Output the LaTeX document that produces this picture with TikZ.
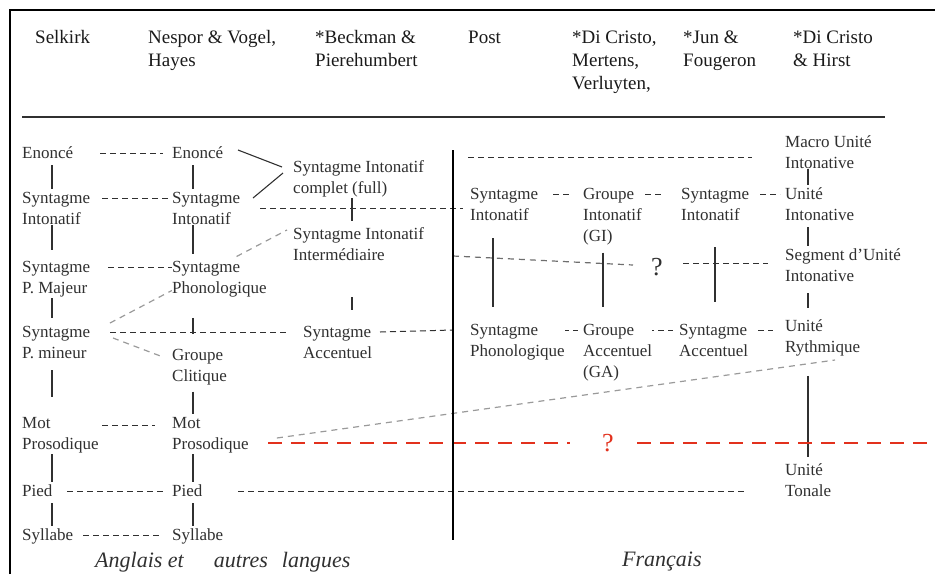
\documentclass[tikz,border=0pt]{standalone}
\usepackage{fontspec}
\setmainfont{Liberation Serif}
\usetikzlibrary{backgrounds, positioning}
\definecolor{ink}{HTML}{303030}
\definecolor{inkhead}{HTML}{1A1A1A}
\definecolor{greyline}{HTML}{9A9A9A}
\definecolor{redline}{HTML}{E2311D}
\newcommand{\bodysize}{\fontsize{17}{21}\selectfont}
\newcommand{\headsize}{\fontsize{19}{23}\selectfont}

\begin{document}
\begin{tikzpicture}[x=1pt, y=-1pt,
  term/.style={font=\bodysize, text=ink, align=left, inner sep=0pt,
               anchor=north west, fill=white},
  head/.style={font=\headsize, text=inkhead, align=left, inner sep=0pt,
               anchor=north west},
  lang/.style={font=\fontsize{22}{26}\selectfont\itshape, text=ink,
               inner sep=0pt, anchor=base west},
  qm/.style={font=\fontsize{26}{30}\selectfont, inner sep=0pt, anchor=west},
  tie/.style={draw=ink, line width=1.1pt},
  lk/.style={draw=ink, line width=1pt, dash pattern=on 6pt off 4pt},
  lkgrey/.style={draw=greyline, line width=1.2pt, dash pattern=on 6pt off 5pt},
  redlk/.style={draw=redline, line width=2.6pt, dash pattern=on 14pt off 9pt}
]
  \useasboundingbox (0,0) rectangle (935,574);

  % Frame and header rule
  \draw[line width=1.4pt] (10,574) -- (10,10) -- (935,10);
  \draw[line width=2.6pt, draw=ink] (22,117) -- (885,117);

  % Authors
  \node[head] (selkirk)  at (35,27)  {\strut Selkirk};
  \node[head] (nespor)   at (148,27) {\strut Nespor \& Vogel,\\Hayes};
  \node[head] (beckman)  at (315,27) {\strut *Beckman \&\\Pierehumbert};
  \node[head] (post)     at (468,27) {\strut Post};
  \node[head] (dicristo) at (572,27) {\strut *Di Cristo,\\Mertens,\\Verluyten,};
  \node[head] (jun)      at (683,27) {\strut *Jun \&\\Fougeron};
  \node[head] (hirst)    at (793,27) {\strut *Di Cristo\\\& Hirst};

  % Selkirk
  \node[term] (enonceS) at (22,144) {\strut Enoncé};
  \node[term] (sintS)   at (22,189) {\strut Syntagme\\Intonatif};
  \node[term] (spmajS)  at (22,258) {\strut Syntagme\\P. Majeur};
  \node[term] (spminS)  at (22,323) {\strut Syntagme\\P. mineur};
  \node[term] (motS)    at (22,414) {\strut Mot\\Prosodique};
  \node[term] (piedS)   at (22,482) {\strut Pied};
  \node[term] (sylS)    at (22,526) {\strut Syllabe};

  % Nespor & Vogel, Hayes
  \node[term] (enonceN) at (172,144) {\strut Enoncé};
  \node[term] (sintN)   at (172,189) {\strut Syntagme\\Intonatif};
  \node[term] (sphonN)  at (172,258) {\strut Syntagme\\Phonologique};
  \node[term] (gcliN)   at (172,346) {\strut Groupe\\Clitique};
  \node[term] (motN)    at (172,414) {\strut Mot\\Prosodique};
  \node[term] (piedN)   at (172,482) {\strut Pied};
  \node[term] (sylN)    at (172,526) {\strut Syllabe};

  % Beckman & Pierehumbert
  \node[term] (sifullB) at (293,158) {\strut Syntagme Intonatif\\complet (full)};
  \node[term] (siintB)  at (293,225) {\strut Syntagme Intonatif\\Intermédiaire};
  \node[term] (saccB)   at (303,323) {\strut Syntagme\\Accentuel};

  % French side
  \coordinate (bartop) at (453,150);
  \coordinate (barbot) at (453,540);
  \draw[line width=2.2pt] (bartop) -- (barbot);

  \node[term] (sintP)  at (470,185) {\strut Syntagme\\Intonatif};
  \node[term] (sphonP) at (470,321) {\strut Syntagme\\Phonologique};
  \node[term] (giD)    at (583,185) {\strut Groupe\\Intonatif\\(GI)};
  \node[term] (gaD)    at (583,321) {\strut Groupe\\Accentuel\\(GA)};
  \node[term] (sintJ)  at (681,185) {\strut Syntagme\\Intonatif};
  \node[term] (saccJ)  at (679,321) {\strut Syntagme\\Accentuel};
  \node[term] (muiH)   at (785,133) {\strut Macro Unité\\Intonative};
  \node[term] (uiH)    at (785,185) {\strut Unité\\Intonative};
  \node[term] (suiH)   at (785,246) {\strut Segment d’Unité\\Intonative};
  \node[term] (urH)    at (785,317) {\strut Unité\\Rythmique};
  \node[term] (utH)    at (785,461) {\strut Unité\\Tonale};

  \node[qm, text=ink] (qmark) at (651,267) {?};
  \node[qm, text=redline] (redq) at (602,443) {?};
  \coordinate (redend) at (935,443);

  % Languages
  \node[lang] (anglais)  at (95,567)  {Anglais et\hspace{30pt}autres\hspace{14pt}langues};
  \node[lang] (francais) at (622,566) {Français};

  \begin{scope}[on background layer]
    % vertical ties
    \draw[tie] ([xshift=30pt]enonceS.south west) -- ([xshift=30pt]sintS.north west);
    \draw[tie, shorten >=8pt] ([xshift=30pt]sintS.south west) -- ([xshift=30pt]spmajS.north west);
    \draw[tie, shorten >=5pt] ([xshift=30pt]spmajS.south west) -- ([xshift=30pt]spminS.north west);
    \draw[tie, shorten <=11pt, shorten >=17pt] ([xshift=30pt]spminS.south west) -- ([xshift=30pt]motS.north west);
    \draw[tie] ([xshift=30pt]motS.south west) -- ([xshift=30pt]piedS.north west);
    \draw[tie] ([xshift=30pt]piedS.south west) -- ([xshift=30pt]sylS.north west);

    \draw[tie] ([xshift=21pt]enonceN.south west) -- ([xshift=21pt]sintN.north west);
    \draw[tie, shorten >=4pt] ([xshift=21pt]sintN.south west) -- ([xshift=21pt]sphonN.north west);
    \draw[tie, shorten <=20pt, shorten >=12pt] ([xshift=21pt]sphonN.south west) -- ([xshift=21pt]gcliN.north west);
    \draw[tie, shorten <=6pt] ([xshift=21pt]gcliN.south west) -- ([xshift=21pt]motN.north west);
    \draw[tie] ([xshift=21pt]motN.south west) -- ([xshift=21pt]piedN.north west);
    \draw[tie] ([xshift=21pt]piedN.south west) -- ([xshift=21pt]sylN.north west);

    \draw[tie, shorten >=4pt] ([xshift=59pt]sifullB.south west) -- ([xshift=59pt]siintB.north west);
    \draw[tie, shorten <=36pt, shorten >=13pt] ([xshift=59pt]siintB.south west) -- ([xshift=49pt]saccB.north west);

    \draw[tie, shorten <=17pt, shorten >=14pt] ([xshift=23pt]sintP.south west) -- ([xshift=23pt]sphonP.north west);
    \draw[tie, shorten <=7pt, shorten >=14pt] ([xshift=20pt]giD.south west) -- ([xshift=20pt]gaD.north west);
    \draw[tie, shorten <=26pt, shorten >=19pt] ([xshift=34pt]sintJ.south west) -- ([xshift=36pt]saccJ.north west);

    \draw[tie] ([xshift=23pt]muiH.south west) -- ([xshift=23pt]uiH.north west);
    \draw[tie, shorten <=6pt] ([xshift=23pt]uiH.south west) -- ([xshift=23pt]suiH.north west);
    \draw[tie, shorten <=11pt, shorten >=9pt] ([xshift=23pt]suiH.south west) -- ([xshift=23pt]urH.north west);
    \draw[tie, shorten <=19pt, shorten >=4pt] ([xshift=23pt]urH.south west) -- ([xshift=23pt]utH.north west);

    % Enonce and SI into the full IP
    \draw[tie] ([xshift=66pt,yshift=-6pt]enonceN.north west) -- ([xshift=-11pt,yshift=-9pt]sifullB.north west);
    \draw[tie] ([xshift=81pt,yshift=-9pt]sintN.north west) -- ([xshift=-10pt,yshift=-15pt]sifullB.north west);

    % dashed equivalences
    \draw[lk] ([xshift=78pt,yshift=-9pt]enonceS.north west) -- ([xshift=-9pt,yshift=-9pt]enonceN.north west);
    \draw[lk] ([xshift=80pt,yshift=-9pt]sintS.north west) -- ([xshift=-4pt,yshift=-9pt]sintN.north west);
    \draw[lk] ([xshift=86pt,yshift=-9pt]spmajS.north west) -- ([xshift=0pt,yshift=-9pt]sphonN.north west);
    \draw[lk] ([xshift=88pt,yshift=-9pt]spminS.north west) -- ([xshift=-16pt,yshift=-9pt]saccB.north west);
    \draw[lk] ([xshift=77pt,yshift=-9pt]saccB.north west) -- ([xshift=-17pt,yshift=-9pt]sphonP.north west);
    \draw[lk] ([xshift=70pt,yshift=-11pt]motS.north west) -- ([xshift=-17pt,yshift=-11pt]motN.north west);
    \draw[lk] ([xshift=45pt,yshift=-9pt]piedS.north west) -- ([xshift=-9pt,yshift=-9pt]piedN.north west);
    \draw[lk] ([xshift=61pt,yshift=-9pt]sylS.north west) -- ([xshift=-10pt,yshift=-9pt]sylN.north west);
    \draw[lk] ([xshift=66pt,yshift=-9pt]piedN.north west) -- ([xshift=-38pt,yshift=-30pt]utH.north west);
    \draw[lk] ([xshift=88pt,yshift=-19pt]sintN.north west) -- ([xshift=-7pt,yshift=-23pt]sintP.north west);
    \draw[lk] ([xshift=-317pt,yshift=-24pt]muiH.north west) -- ([xshift=-33pt,yshift=-24pt]muiH.north west);

    \draw[lk] ([xshift=83pt,yshift=-9pt]sintP.north west) -- ([xshift=-13pt,yshift=-9pt]giD.north west);
    \draw[lk] ([xshift=62pt,yshift=-9pt]giD.north west) -- ([xshift=-18pt,yshift=-9pt]sintJ.north west);
    \draw[lk] ([xshift=79pt,yshift=-9pt]sintJ.north west) -- ([xshift=-5pt,yshift=-9pt]uiH.north west);
    \draw[lk] ([xshift=83pt,yshift=-9pt]sphonP.north west) -- ([xshift=-5pt,yshift=-9pt]gaD.north west);
    \draw[lk] ([xshift=65pt,yshift=-9pt]gaD.north west) -- ([xshift=-6pt,yshift=-9pt]saccJ.north west);
    \draw[lk] ([xshift=79pt,yshift=-9pt]saccJ.north west) -- ([xshift=-12pt,yshift=-13pt]urH.north west);

    % around the question mark
    \draw[lkgrey, draw=ink!70] ([xshift=-198pt,yshift=11pt]qmark.west) -- ([xshift=-18pt,yshift=2pt]qmark.west);
    \draw[lk] ([xshift=32pt,yshift=4pt]qmark.west) -- ([xshift=-17pt,yshift=-17pt]suiH.north west);

    % grey links
    \draw[lkgrey] ([xshift=88pt]spminS.north west) -- ([xshift=-6pt,yshift=-5pt]siintB.north west);
    \draw[lkgrey] ([xshift=91pt,yshift=-15pt]spminS.north west) -- ([xshift=-9pt,yshift=-11pt]gcliN.north west);
    \draw[lkgrey] ([xshift=28pt,yshift=-24pt]motN.north east) -- ([xshift=50pt,yshift=-43pt]urH.north west);

    % red line
    \draw[redlk] ([xshift=19.5pt,yshift=-29pt]motN.north east) -- ([xshift=-32pt]redq.west);
    \draw[redlk] ([xshift=35pt]redq.west) -- (redend);
  \end{scope}
\end{tikzpicture}
\end{document}
